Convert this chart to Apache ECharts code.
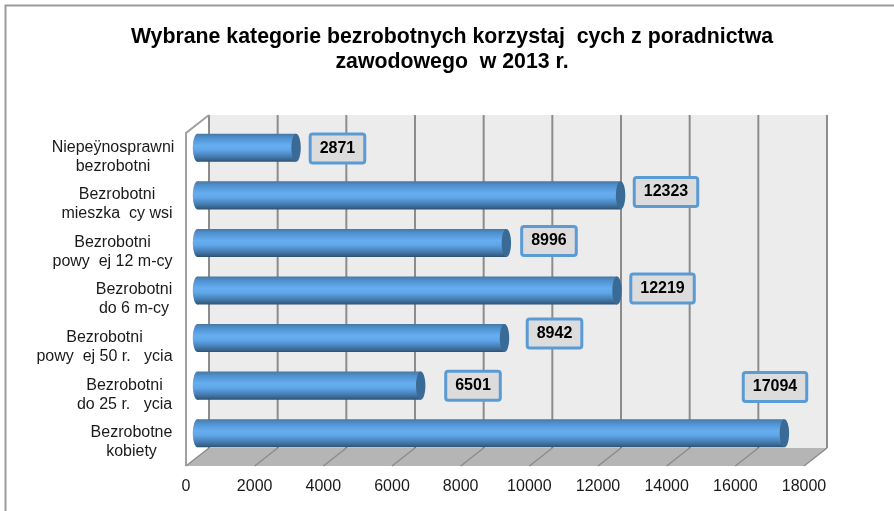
<!DOCTYPE html>
<html>
<head>
<meta charset="utf-8">
<style>html,body{margin:0;padding:0;background:#fff}#main{width:894px;height:511px}</style>
<script src="https://cdn.jsdelivr.net/npm/echarts@6/dist/echarts.min.js"></script>
</head>
<body>
<div id="main"></div>
<script>
// od dolu wykresu do gory
var categories = [
    'Bezrobotne\nkobiety',
    'Bezrobotni\ndo 25 r.   ycia',
    'Bezrobotni\npowy  ej 50 r.   ycia',
    'Bezrobotni\ndo 6 m-cy',
    'Bezrobotni\npowy  ej 12 m-cy',
    'Bezrobotni\nmieszka  cy wsi',
    'Niepeÿnosprawni\nbezrobotni'
];
var values = [17094, 6501, 8942, 12219, 8996, 12323, 2871];
var ticks = [0, 2000, 4000, 6000, 8000, 10000, 12000, 14000, 16000, 18000];

// uklad: szerokosc etykiet osi i przesuniecia ramek z wartosciami
var labelWidths = [81, 95, 135, 76, 119, 110, 118];
var boxOffsets = [[-9.4, -46.2], [52.3, 0], [50, -4.5], [45.5, -2], [42.6, -2], [45.4, -3.4], [41.4, 0.7]];
var depthX = 23, depthY = 18;

var font = 'Liberation Sans';
var rich = {};
labelWidths.forEach(function (w, i) {
    rich['c' + i] = {width: w, align: 'center', fontSize: 16, fontFamily: font, color: '#1a1a1a', lineHeight: 19};
});

function renderWall(params, api) {
    var cs = params.coordSys;
    var x = api.coord([api.value(0), 0])[0];
    var bottom = cs.y + cs.height, top = cs.y;
    var children = [];
    if (params.dataIndex === 0) {
        var right = cs.x + cs.width;
        children.push({
            type: 'polygon', z2: 1,
            shape: {points: [[cs.x + depthX, top - depthY], [right + depthX, top - depthY], [right + depthX, bottom - depthY], [cs.x + depthX, bottom - depthY]]},
            style: {fill: '#ececec'}
        });
        children.push({
            type: 'polygon', z2: 1,
            shape: {points: [[cs.x, bottom], [cs.x + depthX, bottom - depthY], [right + depthX, bottom - depthY], [right, bottom]]},
            style: {fill: '#b5b5b5'}
        });
        children.push({
            type: 'polyline', z2: 3,
            shape: {points: [[cs.x + depthX, top - depthY], [cs.x, top], [cs.x, bottom]]},
            style: {stroke: '#a0a0a0', lineWidth: 2, fill: null}
        });
    }
    children.push({
        type: 'line', z2: 2,
        shape: {x1: x + depthX, y1: top - depthY, x2: x + depthX, y2: bottom - depthY},
        style: {stroke: '#8c8c8c', lineWidth: 2}
    });
    children.push({
        type: 'line', z2: 2,
        shape: {x1: x, y1: bottom, x2: x + depthX, y2: bottom - depthY},
        style: {stroke: '#8c8c8c', lineWidth: 1.5}
    });
    return {type: 'group', children: children};
}

function renderBar(params, api) {
    var i = params.dataIndex;
    var start = api.coord([0, i]);
    var end = api.coord([api.value(0), i]);
    var h = api.size([0, 1])[1] * 0.59;
    var x0 = start[0] + depthX / 2, x1 = end[0] + depthX / 2;
    var cy = start[1] - depthY / 2;
    var rx = 4.7, ry = h / 2;
    var fill = new echarts.graphic.LinearGradient(0, 0, 0, 1, [
        {offset: 0, color: '#47789f'},
        {offset: 0.14, color: '#4f90cf'},
        {offset: 0.42, color: '#66aef1'},
        {offset: 0.58, color: '#60a6e8'},
        {offset: 0.8, color: '#467fb6'},
        {offset: 0.93, color: '#38648c'},
        {offset: 1, color: '#2d4f70'}
    ]);
    return {
        type: 'group',
        children: [
            {type: 'ellipse', shape: {cx: x0, cy: cy, rx: rx, ry: ry}, style: {fill: fill}},
            {type: 'rect', shape: {x: x0, y: cy - ry, width: x1 - x0, height: h}, style: {fill: fill}},
            {type: 'ellipse', shape: {cx: x1, cy: cy, rx: rx, ry: ry}, style: {fill: '#3a6a96'}},
            {
                type: 'text',
                style: {
                    x: x1 + boxOffsets[i][0],
                    y: cy + boxOffsets[i][1],
                    text: String(api.value(0)),
                    align: 'center',
                    verticalAlign: 'middle',
                    font: 'bold 16px "Liberation Sans"',
                    fill: '#000',
                    backgroundColor: '#dcdcdc',
                    borderColor: '#5b9bd5',
                    borderWidth: 3,
                    borderRadius: 1,
                    padding: [5, 8, 5, 8]
                }
            }
        ]
    };
}

var myChart = echarts.init(document.getElementById('main'));
var option = {
    animation: false,
    backgroundColor: '#fff',
    title: {
        text: 'Wybrane kategorie bezrobotnych korzystaj  cych z poradnictwa\nzawodowego  w 2013 r.',
        left: 447,
        top: 20,
        textAlign: 'center',
        textStyle: {fontFamily: font, fontSize: 21.3, fontWeight: 'bold', color: '#000', lineHeight: 25}
    },
    grid: {left: 186, right: 90, top: 133, bottom: 45},
    xAxis: {
        type: 'value',
        min: 0,
        max: 18000,
        interval: 2000,
        axisLine: {show: false},
        axisTick: {show: false},
        splitLine: {show: false},
        axisLabel: {
            margin: 13,
            hideOverlap: false,
            fontFamily: font,
            fontSize: 16,
            color: '#1a1a1a',
            formatter: function (v) { return String(v); }
        }
    },
    yAxis: {
        type: 'category',
        data: categories,
        axisLine: {show: false},
        axisTick: {show: false},
        axisLabel: {
            margin: 14,
            interval: 0,
            formatter: function (value, index) {
                return value.split('\n').map(function (s) {
                    return '{c' + index + '|' + s + '}';
                }).join('\n');
            },
            rich: rich
        }
    },
    series: [
        {type: 'custom', renderItem: renderWall, silent: true, z: 1, clip: false,
            encode: {x: 0, y: 1},
            data: ticks.map(function (t) { return [t, 0]; })},
        {type: 'custom', renderItem: renderBar, z: 2, clip: false,
            encode: {x: 0, y: 1},
            data: values.map(function (v, i) { return [v, i]; })}
    ],
    // ramka wykresu widoczna tylko z lewej i od gory, reszta ucieta
    graphic: [{
        type: 'polyline', z: -1,
        shape: {points: [[5.5, 511], [5.5, 5.5], [894, 5.5]]},
        style: {fill: null, stroke: '#9a9a9a', lineWidth: 2}
    }]
};
myChart.setOption(option);
</script>
</body>
</html>
